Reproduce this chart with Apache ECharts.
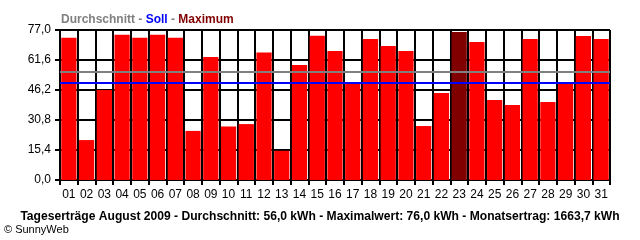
<!DOCTYPE html>
<html><head><meta charset="utf-8">
<script src="https://cdn.jsdelivr.net/npm/echarts@6/dist/echarts.min.js"></script>
<style>html,body{margin:0;padding:0;background:#fff}#c{width:640px;height:240px}</style>
</head><body><div id="c"></div>
<script>
var days = ['01','02','03','04','05','06','07','08','09','10','11','12','13','14','15','16','17','18','19','20','21','22','23','24','25','26','27','28','29','30','31'];
var yields = [73.0,20.5,46.2,74.6,73.0,74.6,73.0,25.2,63.1,27.4,28.7,65.4,15.0,59.0,74.1,66.2,50.0,72.4,68.8,66.2,27.7,44.7,76.0,70.8,41.1,38.5,72.4,40.0,50.0,73.9,72.4];
var averageValue = 55.4;
var targetValue = 50.0;
var maxIndex = 22;
var yTicks = [0, 15.4, 30.8, 46.2, 61.6, 77.0];
var legendTexts = ['Durchschnitt', 'Soll', 'Maximum'];
var footer = 'Tageserträge August 2009 - Durchschnitt: 56,0 kWh - Maximalwert: 76,0 kWh - Monatsertrag: 1663,7 kWh';
var copyright = '© SunnyWeb';

var chart = echarts.init(document.getElementById('c'), null, {renderer:'canvas'});
var font = 'Liberation Sans, Arial, sans-serif';
var barData = yields.map(function(v,i){
  return {value:v, itemStyle:{color: i===maxIndex ? '#800000' : '#ff0000'}};
});
chart.setOption({
  animation:false,
  backgroundColor:'#fff',
  grid:{left:60, right:30, top:30, bottom:60, containLabel:false},
  title:{
    left:56, top:9,
    text:'{a|'+legendTexts[0]+'}{d| - }{b|'+legendTexts[1]+'}{d| - }{c|'+legendTexts[2]+'}',
    textStyle:{
      fontFamily:font, fontSize:12, fontWeight:'bold',
      rich:{
        a:{color:'#808080', fontFamily:font, fontSize:12, fontWeight:'bold'},
        d:{color:'#808080', fontFamily:font, fontSize:12, fontWeight:'bold'},
        b:{color:'#0000ff', fontFamily:font, fontSize:12, fontWeight:'bold'},
        c:{color:'#800000', fontFamily:font, fontSize:12, fontWeight:'bold'}
      }
    }
  },
  graphic:[
    {type:'text', left:'center', top:211, style:{text:footer, fill:'#000', font:'bold 12.1px '+font}},
    {type:'text', left:4, top:224, style:{text:copyright, fill:'#000', font:'11px '+font}}
  ],
  xAxis:{
    type:'category', data:days, boundaryGap:true,
    axisLine:{show:true, lineStyle:{color:'#000', width:2}},
    axisTick:{show:true, length:5, lineStyle:{color:'#000', width:2}},
    axisLabel:{color:'#000', fontFamily:font, fontSize:12, margin:9, interval:0},
    splitLine:{show:true, interval:0, lineStyle:{color:'#000', width:2}}
  },
  yAxis:{
    type:'value', min:yTicks[0], max:yTicks[yTicks.length-1], interval:yTicks[1],
    axisLine:{show:true, lineStyle:{color:'#000', width:2}},
    axisTick:{show:true, length:5, lineStyle:{color:'#000', width:2}},
    axisLabel:{color:'#000', fontFamily:font, fontSize:12, margin:9,
      formatter:function(v){return v.toFixed(1).replace('.',',');}},
    splitLine:{show:true, lineStyle:{color:'#000', width:2}}
  },
  series:[{
    type:'bar', data:barData, barCategoryGap:'14%', z:2,
    markLine:{
      silent:true, symbol:['none','none'], label:{show:false},
      data:[
        {yAxis:averageValue, lineStyle:{color:'#808080', width:2, type:'solid'}},
        {yAxis:targetValue, lineStyle:{color:'#0000ff', width:2, type:'solid'}}
      ]
    }
  }]
});
</script></body></html>
